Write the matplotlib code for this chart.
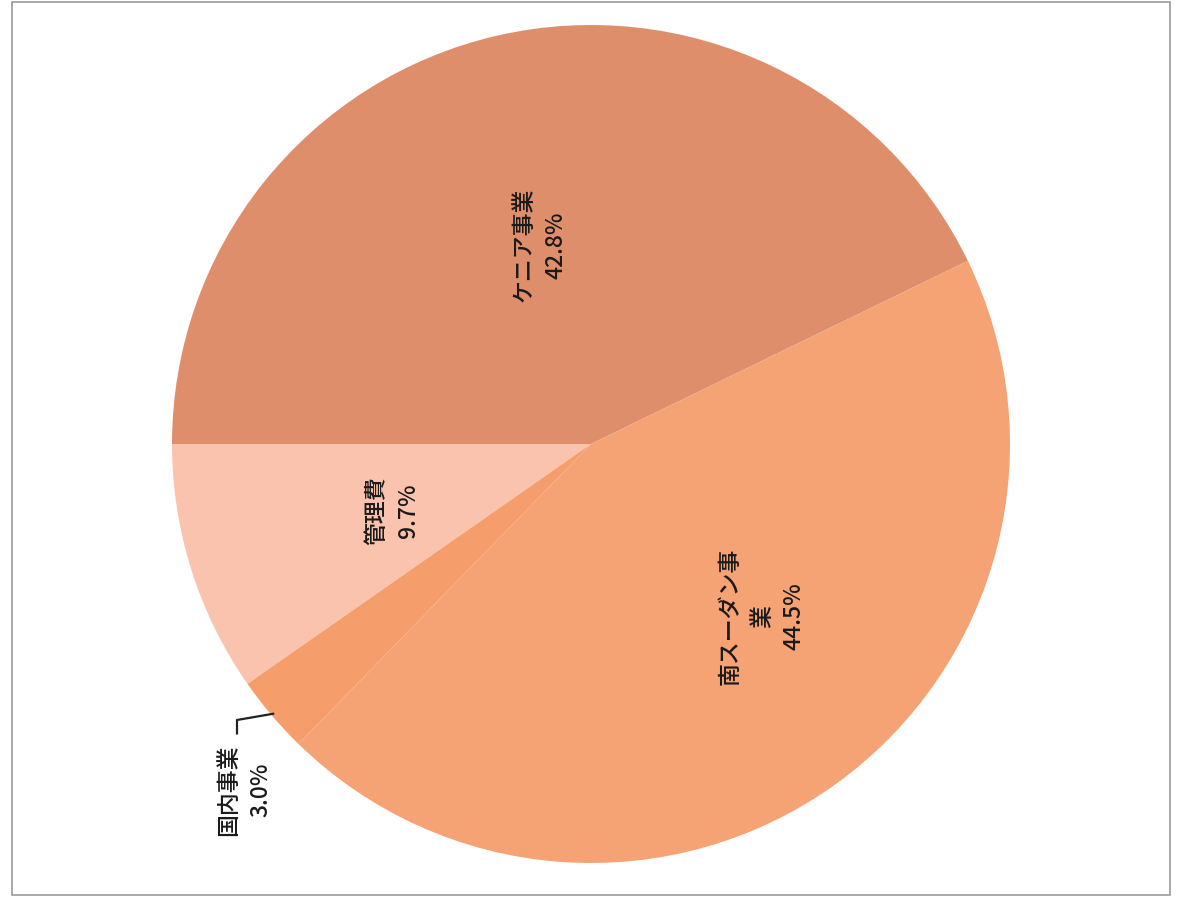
import numpy as np
import matplotlib.pyplot as plt
from matplotlib.patches import Rectangle

plt.rcParams['font.family'] = ['Noto Sans CJK JP', 'DejaVu Sans']

# data (counter-clockwise order starting at the upper-right boundary)
labels = ['ケニア事業', '管理費', '国内事業', '南スーダン事\n業']
shares = [42.8, 9.7, 3.0, 44.5]
colors = ['#DF8E6C', '#F9C3AE', '#F69E6B', '#F5A274']

W, H = 1177, 902
cx, cy, r = 591, 444, 419  # pixel centre and radius of the pie

fig = plt.figure(figsize=(W / 100, H / 100), dpi=100)
ax = fig.add_axes([0, 0, 1, 1])

start = 180 - shares[0] * 3.6
wedges, _ = ax.pie(shares, colors=colors, startangle=start, counterclock=True,
                   radius=1, center=(0, 0), wedgeprops=dict(linewidth=0))

ax.set_xlim(-cx / r, (W - cx) / r)
ax.set_ylim(-(H - cy) / r, cy / r)
ax.set_aspect('auto')
ax.axis('off')

# labels inside the slices (rotated like the scanned page)
txt = dict(rotation=90, ha='center', va='center', fontsize=16.5,
           color='#1a1a1a', linespacing=1.5, multialignment='center',
           fontweight='medium')
# (distance from centre, angle offset from mid-angle in degrees)
pos = {0: (0.49, 1.5), 1: (0.50, 1.2), 3: (0.58, 9.0)}
for i, w in enumerate(wedges):
    if i == 2:
        continue
    d, off = pos[i]
    ang = np.deg2rad((w.theta1 + w.theta2) / 2 + off)
    x, y = d * np.cos(ang), d * np.sin(ang)
    ax.text(x, y, f'{labels[i]}\n{shares[i]:.1f}%', **txt)

# small slice: label outside with a leader line
w = wedges[2]
ang = np.deg2rad((w.theta1 + w.theta2) / 2)
ex, ey = np.cos(ang), np.sin(ang)
lx, ly = (237 - cx) / r, (cy - 720) / r
ax.plot([ex * 0.995, lx, lx], [ey * 0.995, ly, ly - 0.032], color='#222222', lw=1.6)
ax.text((245 - cx) / r, (cy - 790) / r, f'{labels[2]}\n{shares[2]:.1f}%', **txt)

# scanned page frame
fig.patches.append(Rectangle((12 / W, 1 - 895 / H), (1170 - 12) / W, (895 - 2) / H,
                             transform=fig.transFigure, fill=False,
                             edgecolor='#999999', lw=1.2))

fig.savefig('out.png', dpi=100)
